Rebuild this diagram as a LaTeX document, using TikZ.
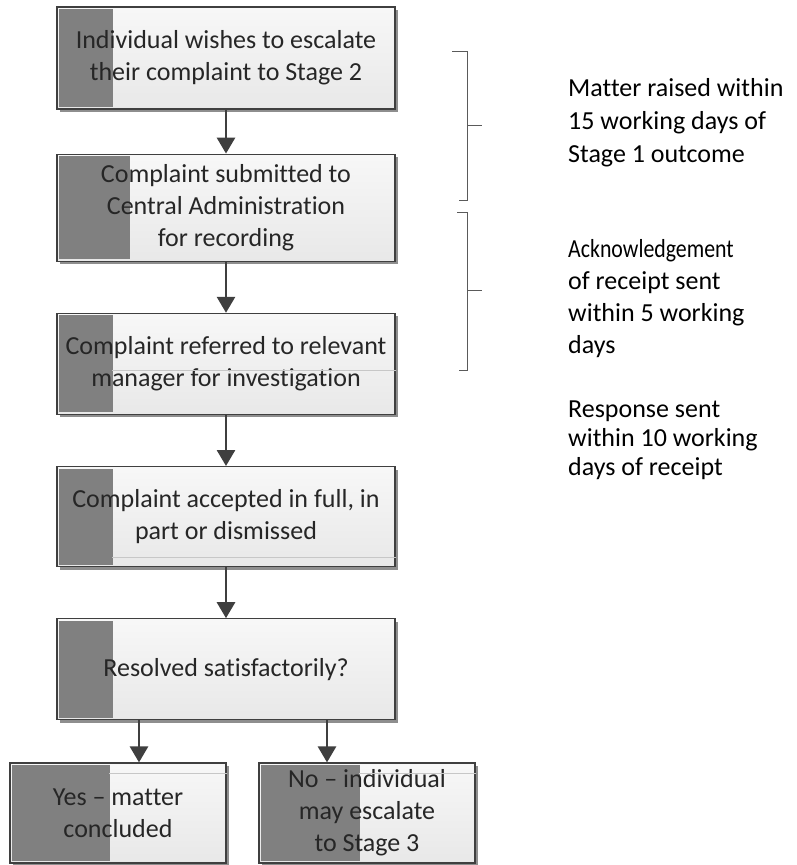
\documentclass[tikz,border=0pt]{standalone}
\usepackage{fontspec}
\setmainfont[Ligatures=NoCommon]{Carlito}
\usepackage{graphicx}
\usetikzlibrary{arrows.meta, positioning, shadows}
\definecolor{edgegray}{HTML}{3F3F3F}
\definecolor{stripgray}{HTML}{808080}
\definecolor{shadowgray}{HTML}{8E8E8E}
\definecolor{bracegray}{HTML}{5A5A5A}

\begin{document}
\begin{tikzpicture}[
    x=1pt, y=-1pt,
    node distance=51pt,
    box/.style={rectangle, draw=edgegray, line width=1.2pt, minimum width=338pt, inner sep=0pt, align=center,
        top color=white!97!black, bottom color=white!91!black, text=black!85,
        font=\fontsize{26}{32}\selectfont,
        drop shadow={shadow xshift=3pt, shadow yshift=-3pt, fill=shadowgray, opacity=1},
        path picture={\fill[stripgray] ([shift={(2pt,2pt)}]path picture bounding box.south west)
            rectangle ([shift={(#1,-2pt)}]path picture bounding box.north west);}},
    box/.default=56pt,
    arrow/.style={-{Triangle[width=18pt,length=16pt]}, line width=2.8pt, draw=edgegray},
    note/.style={anchor=west, align=left, inner sep=0pt, font=\fontsize{26}{33}\selectfont},
    brace/.style={draw=bracegray, line width=1pt},
    seam/.style={draw=white!78!black, line width=1pt}
]
\useasboundingbox (0,0) rectangle (797,865);

% Boxes
\node[box, minimum height=102pt] (wish) at (226,58) {Individual wishes to escalate\\their complaint to Stage 2};
\node[box=73pt, minimum height=107pt, below=44pt of wish] (submit) {Complaint submitted to\\Central Administration\\for recording};
\node[box, minimum height=101pt, below=of submit] (refer) {Complaint referred to relevant\\manager for investigation};
\node[box, minimum height=100pt, below=of refer] (accept) {Complaint accepted in full, in\\part or dismissed};
\node[box, minimum height=101pt, below=of accept] (resolved) {Resolved satisfactorily?};
\node[box=100pt, minimum width=216pt, minimum height=100pt] (yes) at (118,813) {Yes -- matter\\concluded};
\node[box=101pt, minimum width=216pt, minimum height=100pt] (no) at (367,813) {No -- individual\\may escalate\\to Stage 3};

% Seams
\draw[seam] ([xshift=56pt,yshift=45pt]refer.south west) -- ([yshift=45pt]refer.south east);
\draw[seam] ([xshift=56pt,yshift=10pt]accept.south west) -- ([yshift=10pt]accept.south east);
\draw[seam] ([xshift=100pt,yshift=-11pt]yes.north west) -- ([yshift=-11pt]yes.north east);
\draw[seam] ([xshift=101pt,yshift=-11pt]no.north west) -- ([yshift=-11pt]no.north east);

% Arrows
\draw[arrow] (wish) -- (submit);
\draw[arrow] (submit) -- (refer);
\draw[arrow] (refer) -- (accept);
\draw[arrow] (accept) -- (resolved);
\coordinate (yesfrom) at ([xshift=-87pt]resolved.south);
\coordinate (nofrom) at ([xshift=101pt]resolved.south);
\draw[arrow] (yesfrom) -- (yesfrom |- yes.north);
\draw[arrow] (nofrom) -- (nofrom |- no.north);

% Brackets
\draw[brace] (452,51) -- (467,51) -- (467,200) -- (459,200) (467,125) -- (482,125);
\draw[brace] (457,212) -- (467,212) -- (467,370) -- (459,370) (467,290) -- (482,290);

% Notes
\node[note] (raised) at (568,123) {Matter raised within\\15 working days of\\Stage 1 outcome};
\node[note, font=\fontsize{26}{32}\selectfont] (receipt) at (568,299) {\scalebox{0.84}[1]{Acknowledgement}\\of receipt sent\\within 5 working\\days};
\node[note, font=\fontsize{26}{29}\selectfont] (response) at (568,440) {Response sent\\within 10 working\\days of receipt};

\end{tikzpicture}
\end{document}
